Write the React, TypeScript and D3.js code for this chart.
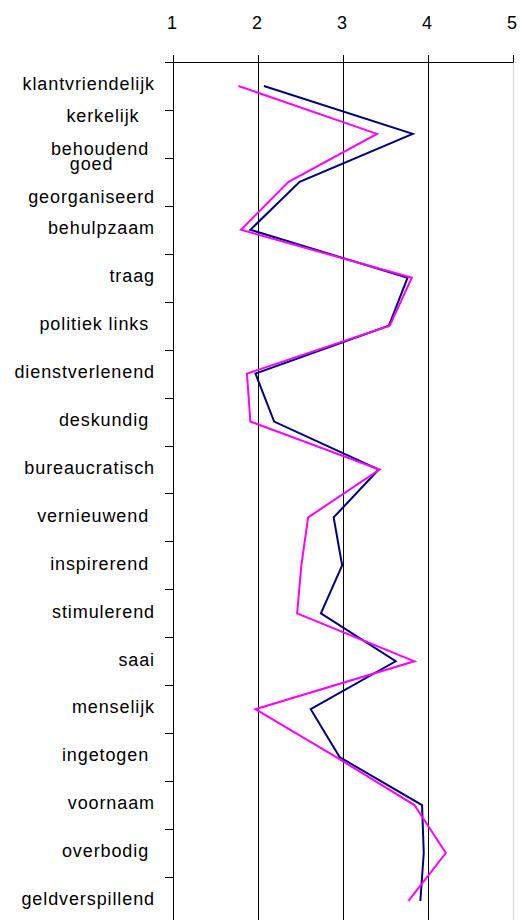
import React, { useEffect, useRef } from 'react';
import * as d3 from 'd3';

// categorieen (\n = regelafbreking zoals in het origineel)
const categories = [
  'klantvriendelijk',
  'kerkelijk\nbehoudend ',
  'goed\ngeorganiseerd',
  'behulpzaam',
  'traag',
  'politiek links ',
  'dienstverlenend',
  'deskundig ',
  'bureaucratisch',
  'vernieuwend ',
  'inspirerend ',
  'stimulerend',
  'saai',
  'menselijk',
  'ingetogen ',
  'voornaam',
  'overbodig ',
  'geldverspillend',
];

const seriesNavy = [2.07, 3.82, 2.49, 1.91, 3.76, 3.54, 1.97, 2.19, 3.42, 2.89, 2.99, 2.74, 3.62, 2.62, 2.96, 3.93, 3.95, 3.91];
const seriesMagenta = [1.77, 3.40, 2.36, 1.80, 3.81, 3.55, 1.87, 1.91, 3.43, 2.59, 2.51, 2.46, 3.84, 1.97, 2.92, 3.84, 4.21, 3.77];

const xTicks = [1, 2, 3, 4, 5];
const gridValues = [2, 3, 4];

const App = () => {
  const ref = useRef<SVGSVGElement | null>(null);

  useEffect(() => {
    document.body.style.margin = '0';
    const svg = d3.select(ref.current);
    svg.selectAll('*').remove();

    const left = 173, right = 513, top = 62;
    const band = 47.94;
    const bottom = top + band * categories.length;
    const font = "'Liberation Sans', Arial, sans-serif";

    const x = d3.scaleLinear().domain([1, 5]).range([left, right]);
    const y = d3.scaleBand<number>()
      .domain(d3.range(categories.length))
      .range([top, bottom])
      .padding(0);
    const cy = (i: number) => (y(i) as number) + y.bandwidth() / 2;

    // rechterrand
    svg.append('line')
      .attr('x1', right + 0.5).attr('x2', right + 0.5)
      .attr('y1', top).attr('y2', bottom)
      .attr('stroke', '#d0d0d0').attr('stroke-width', 1);

    // rasterlijnen
    svg.selectAll('line.grid')
      .data(gridValues)
      .enter()
      .append('line')
      .attr('class', 'grid')
      .attr('x1', d => Math.round(x(d)) + 0.5)
      .attr('x2', d => Math.round(x(d)) + 0.5)
      .attr('y1', top)
      .attr('y2', bottom)
      .attr('stroke', '#000')
      .attr('stroke-width', 1);

    // bovenas
    svg.append('line')
      .attr('x1', left - 8).attr('x2', right + 0.5)
      .attr('y1', top + 0.5).attr('y2', top + 0.5)
      .attr('stroke', '#000');
    svg.selectAll('line.xtick')
      .data(xTicks)
      .enter()
      .append('line')
      .attr('class', 'xtick')
      .attr('x1', d => Math.round(x(d)) + 0.5)
      .attr('x2', d => Math.round(x(d)) + 0.5)
      .attr('y1', top - 7)
      .attr('y2', top)
      .attr('stroke', '#000');
    svg.selectAll('text.xlabel')
      .data(xTicks)
      .enter()
      .append('text')
      .attr('class', 'xlabel')
      .attr('x', d => x(d) - 1)
      .attr('y', 23)
      .attr('dy', '0.35em')
      .attr('text-anchor', 'middle')
      .style('font-family', font)
      .style('font-size', '18px')
      .text(d => d);

    // linkeras
    svg.append('line')
      .attr('x1', left + 0.5).attr('x2', left + 0.5)
      .attr('y1', top).attr('y2', bottom)
      .attr('stroke', '#000');
    svg.selectAll('line.ytick')
      .data(d3.range(categories.length + 1))
      .enter()
      .append('line')
      .attr('class', 'ytick')
      .attr('x1', left - 8)
      .attr('x2', left)
      .attr('y1', d => Math.round(top + d * band) + 0.5)
      .attr('y2', d => Math.round(top + d * band) + 0.5)
      .attr('stroke', '#000');

    // categorielabels
    const labelRight = 155;
    const lineGap = 33;
    categories.forEach((cat, i) => {
      const lines = cat.split('\n');
      const g = svg.append('g');
      const texts = g.selectAll('text')
        .data(lines)
        .enter()
        .append('text')
        .attr('x', 0)
        .attr('y', (_d, j) => (j - (lines.length - 1) / 2) * lineGap)
        .attr('dy', '0.32em')
        .attr('text-anchor', 'middle')
        .style('font-family', font)
        .style('font-size', '18px')
        .style('letter-spacing', '0.9px')
        .style('white-space', 'pre')
        .text(d => d);
      let maxW = 0;
      texts.each(function () {
        maxW = Math.max(maxW, (this as SVGTextElement).getComputedTextLength());
      });
      g.attr('transform', `translate(${labelRight - maxW / 2},${cy(i) - 1.5})`);
    });

    // lijnen
    const line = d3.line<number>()
      .x(d => x(d))
      .y((_d, i) => cy(i));

    svg.append('path')
      .datum(seriesNavy)
      .attr('fill', 'none')
      .attr('stroke', '#000080')
      .attr('stroke-width', 2)
      .attr('d', line);

    svg.append('path')
      .datum(seriesMagenta)
      .attr('fill', 'none')
      .attr('stroke', '#ff00ff')
      .attr('stroke-width', 2)
      .attr('d', line);
  }, []);

  return (
    <svg ref={ref} width={520} height={920} style={{ display: 'block', background: '#fff' }} />
  );
};

export default App;
